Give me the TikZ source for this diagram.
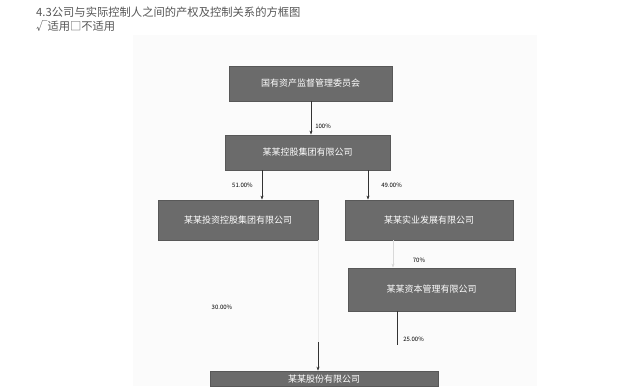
\documentclass[tikz,border=0pt]{standalone}
\usepackage{fontspec}
\setmainfont{Noto Sans CJK SC}
\usetikzlibrary{arrows.meta}
\definecolor{boxgray}{HTML}{6B6B6B}
\definecolor{boxedge}{HTML}{585858}
\definecolor{titlegray}{HTML}{555555}
\tikzset{
  company/.style={draw=boxedge, fill=boxgray, text=white, font=\fontsize{9}{10}\selectfont,
    inner sep=0pt, line width=0.8pt},
  share/.style={font=\fontsize{6}{7}\selectfont, text=black, inner sep=1pt},
  holds/.style={-{Stealth[length=4pt,width=3pt]}, line width=0.6pt, black!80},
}
\begin{document}
\begin{tikzpicture}[x=1pt, y=-1pt]
  \useasboundingbox (0,0) rectangle (627,386);
  \clip (0,0) rectangle (627,386);
  % scanned picture area
  \fill[black!1.5] (133,35) rectangle (537,386);
  \node[anchor=west, text=titlegray, font=\fontsize{11.3}{12}\selectfont, inner sep=0pt] (title) at (36,12) {4.3公司与实际控制人之间的产权及控制关系的方框图};
  \node[anchor=west, text=titlegray, font=\fontsize{11.3}{12}\selectfont, inner sep=0pt] (applies) at (36,26) {√适用□不适用};
  \begin{scope}
    \node[company, minimum width=163, minimum height=35] (gzw) at (310.5,83.5) {国有资产监督管理委员会};
    \node[company, minimum width=165, minimum height=35] (jituan) at (307.5,152.5) {某某控股集团有限公司};
    \node[company, minimum width=160, minimum height=40] (touzi) at (238,220) {某某投资控股集团有限公司};
    \node[company, minimum width=168, minimum height=40] (shiye) at (429,220) {某某实业发展有限公司};
    \node[company, minimum width=167, minimum height=43] (ziben) at (431.5,289.5) {某某资本管理有限公司};
    \node[company, minimum width=228, minimum height=15.5] (gufen) at (324,378.8) {某某股份有限公司};
    \coordinate (upA) at (318,342);
    \coordinate (upB) at (397,345);
    % holdings
    \draw[holds] (gzw.south -| 311,0) -- (jituan.north -| 311,0) node[share, pos=0.75, right=3pt] {100\%};
    \draw[holds] (jituan.south -| 262,0) -- (touzi.north -| 262,0) node[share, pos=0.5, left=8pt] {51.00\%};
    \draw[holds] (jituan.south -| 368,0) -- (shiye.north -| 368,0) node[share, pos=0.5, right=12pt] {49.00\%};
    \draw[holds, black!15] (shiye.south -| 393,0) -- (ziben.north -| 393,0);
    \node[share] (p70) at (419,260) {70\%};
    \draw[line width=0.6pt, black!80] (ziben.south -| 397,0) -- (upB) node[share, pos=0.82, right=5pt] {25.00\%};
    \node[share] (p3) at (222,307) {30.00\%};
    \draw[black!8] (touzi.south -| 318,0) -- (upA);
    \draw[holds] (upA) -- (gufen.north -| 318,0);
  \end{scope}
\end{tikzpicture}
\end{document}
